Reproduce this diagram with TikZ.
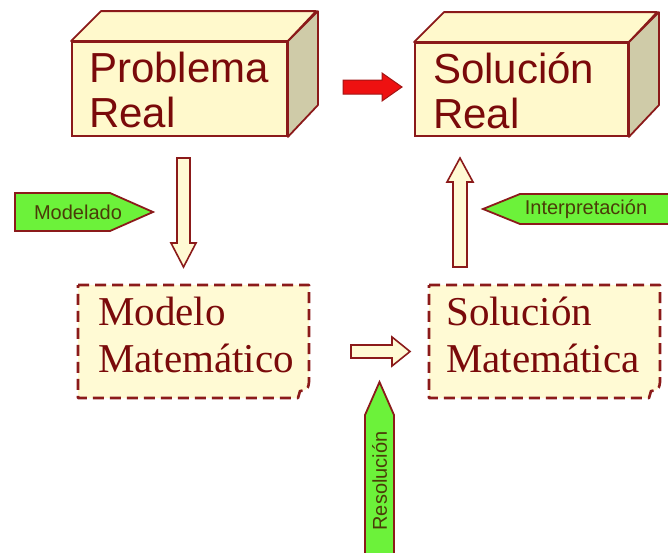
\documentclass[tikz,border=0pt]{standalone}
\usepackage{fontspec}
\setmainfont{Liberation Serif}
\newfontfamily\arialf{Liberation Sans}
\usetikzlibrary{calc}
\definecolor{edge}{HTML}{8B1A1A}
\definecolor{txtred}{HTML}{7A0A0A}
\definecolor{boxfill}{HTML}{FFF9CC}
\definecolor{boxside}{HTML}{CFCBA8}
\definecolor{notefill}{HTML}{FFFAD4}
\definecolor{taggreen}{HTML}{6CF23A}
\definecolor{tagtext}{HTML}{4A3C08}
\definecolor{redarrow}{HTML}{EE1111}
\tikzset{
  boxface/.style={draw=edge, line width=1.8pt, fill=boxfill, inner sep=0pt},
  boxline/.style={draw=edge, line width=1.8pt, line join=round},
  realtext/.style={font=\arialf\fontsize{42}{45}\selectfont, text=txtred, align=left, inner sep=0pt},
  mathtext/.style={font=\fontsize{41}{47}\selectfont, text=txtred, align=left, inner sep=0pt},
  notebox/.style={draw=edge, line width=2.6pt, fill=notefill, dash pattern=on 11pt off 6pt, line join=round},
  tagshape/.style={draw=edge, line width=1.8pt, fill=taggreen, line join=miter},
  tagtxt/.style={font=\arialf\fontsize{20}{22}\selectfont, text=tagtext, inner sep=0pt},
  hollow/.style={draw=edge, line width=1.6pt, fill=notefill, line join=miter},
  redblock/.style={draw=edge!80!red, line width=1pt, fill=redarrow, line join=miter}
}
\begin{document}
\begin{tikzpicture}[x=1pt, y=-1pt]
\clip (0,0) rectangle (668,552);
\useasboundingbox (0,0) rectangle (668,552);
\fill[white] (0,0) rectangle (668,552);

% Problema Real box
\node[boxface, minimum width=215, minimum height=94] (pr) at (179.5,89) {};
\draw[boxline, fill=boxfill] (pr.north west) -- ++(30,-30) -- ++(215,0) -- (pr.north east) -- cycle;
\draw[boxline, fill=boxside] (pr.north east) -- ++(30,-30) -- ++(0,94) -- (pr.south east) -- cycle;
\node[realtext, anchor=north west] (prt) at (89,52) {Problema\\Real};

% Solucion Real box
\node[boxface, minimum width=213, minimum height=93] (sr) at (521.5,89.5) {};
\draw[boxline, fill=boxfill] (sr.north west) -- ++(30,-30) -- ++(213,0) -- (sr.north east) -- cycle;
\draw[boxline, fill=boxside] (sr.north east) -- ++(30,-30) -- ++(0,93) -- (sr.south east) -- cycle;
\node[realtext, anchor=north west] (srt) at (433,52) {Solución\\Real};

% red arrow
\coordinate (ra1) at (343,87);
\coordinate (ra2) at (402,87);
\draw[redblock] ($(ra1)+(0,-7)$) -- ($(ra2)+(-20,-7)$) -- ($(ra2)+(-20,-14)$) -- (ra2)
  -- ($(ra2)+(-20,14)$) -- ($(ra2)+(-20,7)$) -- ($(ra1)+(0,7)$) -- cycle;

% Modelo Matematico note
\draw[notebox] (78,285) -- (309,285) -- (309,382) .. controls (308,392) and (304,390) .. (300,391) -- (298,398) -- (78,398) -- cycle;
\node[mathtext, anchor=north west] (mm) at (98,297) {Modelo\\Matemático};

% Solucion Matematica note
\draw[notebox] (429,285) -- (660,285) -- (660,382) .. controls (659,392) and (655,390) .. (651,391) -- (649,398) -- (429,398) -- cycle;
\node[mathtext, anchor=north west] (sm) at (446,297) {Solución\\Matemática};

% hollow arrows
\coordinate (d1) at (183.5,158);
\coordinate (d2) at (183.5,267);
\draw[hollow] ($(d1)+(-6.5,0)$) -- ($(d1)+(6.5,0)$) -- ($(d2)+(6.5,-24)$) -- ($(d2)+(12.5,-24)$) -- (d2)
  -- ($(d2)+(-12.5,-24)$) -- ($(d2)+(-6.5,-24)$) -- cycle;

\coordinate (u1) at (460,267);
\coordinate (u2) at (460,158);
\draw[hollow] ($(u1)+(-7,0)$) -- ($(u1)+(7,0)$) -- ($(u2)+(7,24)$) -- ($(u2)+(13,24)$) -- (u2)
  -- ($(u2)+(-13,24)$) -- ($(u2)+(-7,24)$) -- cycle;

\coordinate (h1) at (351,351.5);
\coordinate (h2) at (410,351.5);
\draw[hollow] ($(h1)+(0,-6.5)$) -- ($(h2)+(-18,-6.5)$) -- ($(h2)+(-18,-14.5)$) -- (h2)
  -- ($(h2)+(-18,14.5)$) -- ($(h2)+(-18,6.5)$) -- ($(h1)+(0,6.5)$) -- cycle;

% tags
\draw[tagshape] (15,193) -- (110,193) -- (153,212) -- (110,231) -- (15,231) -- cycle;
\node[tagtxt] (modelado) at (78,212) {Modelado};

\draw[tagshape] (483,209) -- (520,194) -- (672,194) -- (672,224) -- (520,224) -- cycle;
\node[tagtxt] (interp) at (586,209) {Interpretación};

\draw[tagshape] (379.5,382) -- (394,415) -- (394,556) -- (365,556) -- (365,415) -- cycle;
\node[tagtxt, rotate=90] (resol) at (379.5,481) {Resolución};
\end{tikzpicture}
\end{document}
